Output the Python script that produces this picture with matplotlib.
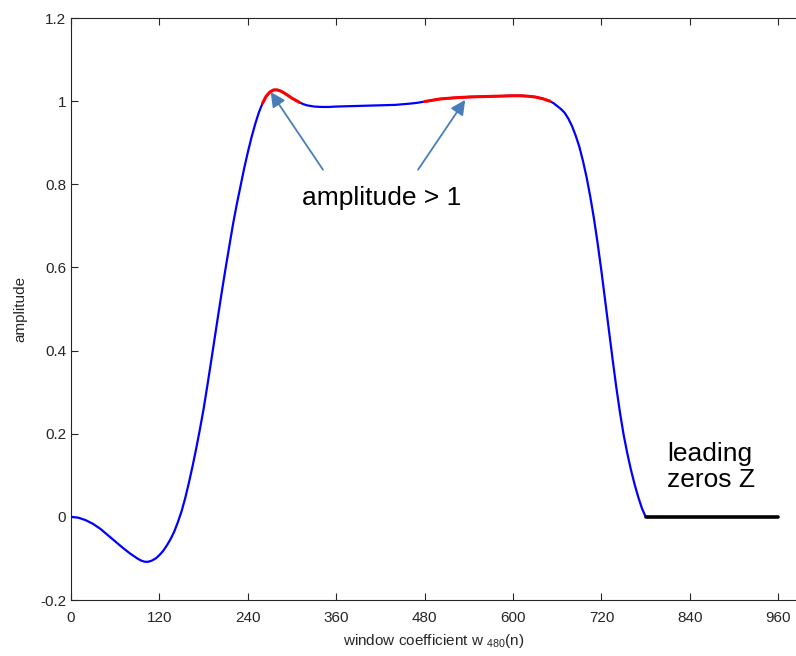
import numpy as np
import matplotlib
matplotlib.use("Agg")
import matplotlib.pyplot as plt
from matplotlib.ticker import FuncFormatter

# window shape (n, amplitude)
n_vals = [0, 10, 20, 30, 40, 50, 60, 70, 80, 90,
          95, 100, 105, 110, 115, 120, 125, 130, 135, 140,
          145, 150, 155, 160, 165, 170, 175, 180, 185, 190,
          195, 200, 205, 210, 215, 220, 225, 230, 235, 240,
          245, 250, 255, 260, 265, 270, 275, 280, 285, 290,
          295, 300, 305, 310, 315, 320, 330, 340, 350, 360,
          380, 400, 420, 440, 460, 470, 480, 490, 500, 520,
          540, 560, 580, 600, 610, 620, 630, 640, 645, 650,
          655, 660, 665, 670, 675, 680, 685, 690, 695, 700,
          705, 710, 715, 720, 725, 730, 735, 740, 745, 750,
          755, 760, 765, 770, 775, 780]
amp_vals = [0.000, -0.002, -0.008, -0.017, -0.029, -0.044, -0.059, -0.074, -0.088, -0.100,
            -0.105, -0.108, -0.108, -0.105, -0.100, -0.092, -0.082, -0.069, -0.054, -0.036,
            -0.013, 0.013, 0.045, 0.082, 0.122, 0.165, 0.211, 0.260, 0.315, 0.372,
            0.430, 0.488, 0.545, 0.600, 0.653, 0.705, 0.752, 0.795, 0.838, 0.877,
            0.913, 0.945, 0.973, 0.995, 1.012, 1.022, 1.027, 1.027, 1.024, 1.019,
            1.013, 1.007, 1.002, 0.997, 0.993, 0.990, 0.987, 0.986, 0.986, 0.987,
            0.988, 0.989, 0.990, 0.991, 0.994, 0.996, 0.999, 1.002, 1.005, 1.008,
            1.010, 1.011, 1.012, 1.013, 1.013, 1.012, 1.010, 1.006, 1.003, 1.000,
            0.995, 0.988, 0.981, 0.972, 0.958, 0.940, 0.917, 0.890, 0.855, 0.815,
            0.768, 0.715, 0.655, 0.590, 0.520, 0.450, 0.380, 0.313, 0.252, 0.198,
            0.153, 0.113, 0.078, 0.047, 0.020, 0.000]

# leading zeros
zeros_n = [780, 960]
zeros_amp = [0.0, 0.0]

x_ticks = [0, 120, 240, 360, 480, 600, 720, 840, 960]
y_ticks = [-0.2, 0, 0.2, 0.4, 0.6, 0.8, 1.0, 1.2]

plt.rcParams["font.family"] = ["Liberation Sans", "DejaVu Sans"]
plt.rcParams["mathtext.fontset"] = "custom"
plt.rcParams["mathtext.rm"] = "Liberation Sans"

n = np.array(n_vals, dtype=float)
amp = np.array(amp_vals)

# red where amplitude exceeds 1 (plus the neighbouring points)
over = amp > 1.0
over_ext = over | np.roll(over, 1) | np.roll(over, -1)
amp_red = np.where(over_ext, amp, np.nan)

fig = plt.figure(figsize=(7.96, 6.56), dpi=100)
ax = fig.add_axes([71 / 796, 56 / 656, 725 / 796, 582 / 656])

ax.plot(n, amp, color="#0000ff", lw=1.6, solid_capstyle="round",
        solid_joinstyle="round", zorder=3)
ax.plot(n, amp_red, color="#ff0000", lw=2.2, solid_capstyle="round",
        solid_joinstyle="round", zorder=4)
ax.plot(zeros_n, zeros_amp, color="black", lw=2.6, solid_capstyle="round", zorder=4)

ax.set_xlim(0, 984)
ax.set_ylim(-0.2, 1.2)
ax.set_xticks(x_ticks)
ax.set_yticks(y_ticks)
ax.yaxis.set_major_formatter(FuncFormatter(lambda v, p: "%g" % round(v, 2)))

axis_col = "#262626"
for side in ["left", "bottom", "top"]:
    ax.spines[side].set_color(axis_col)
    ax.spines[side].set_linewidth(0.8)
ax.spines["right"].set_visible(False)
ax.tick_params(direction="in", length=5, width=0.8, color=axis_col,
               labelcolor=axis_col, labelsize=11, top=True, right=False)
ax.tick_params(axis="x", pad=8)

ax.set_xlabel(r"window coefficient w $_{\mathregular{480}}$(n)", fontsize=11,
              color=axis_col, labelpad=5)
ax.set_ylabel("amplitude", fontsize=11, color=axis_col, labelpad=9)

arrow_col = "#4a7ebb"
arrow = dict(arrowstyle="-|>", color=arrow_col, lw=1.3, mutation_scale=22,
             shrinkA=0, shrinkB=0)
ax.annotate("", xy=(271, 1.022), xytext=(342, 0.835), arrowprops=arrow, zorder=5)
ax.annotate("", xy=(535, 1.003), xytext=(471, 0.835), arrowprops=arrow, zorder=5)
ax.text(422, 0.767, "amplitude > 1", fontsize=19, ha="center", va="center")
ax.text(809, 0.12, "leading\nzeros Z", fontsize=19, ha="left", va="center",
        linespacing=1.12)

fig.savefig("out.png", dpi=100)
